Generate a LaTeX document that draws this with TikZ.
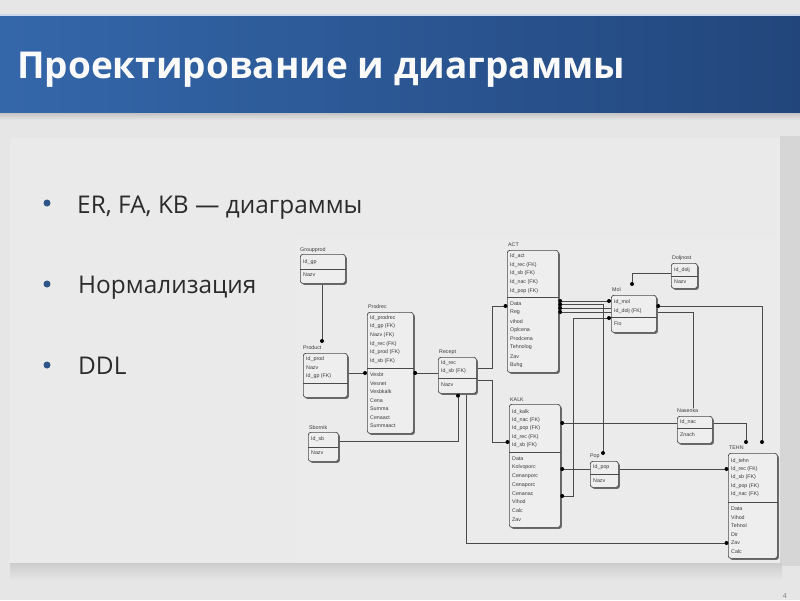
\documentclass[tikz,border=0pt]{standalone}
\usepackage{fontspec}
\setmainfont{Open Sans}
\newfontfamily\tinyfont{Liberation Sans}
\usetikzlibrary{shadows}
\definecolor{bgC}{HTML}{E6E6E6}
\definecolor{panelC}{HTML}{EAEAEA}
\definecolor{diagC}{HTML}{EBEBEB}
\definecolor{stripC}{HTML}{D6D6D6}
\definecolor{banL}{HTML}{3467AA}
\definecolor{banR}{HTML}{22467C}
\definecolor{bulTxt}{HTML}{2B2B2B}
\definecolor{bulDot}{HTML}{2F5488}
\definecolor{lineC}{HTML}{4A4A4A}
\definecolor{boxC}{HTML}{EEEEEE}
\definecolor{shadowC}{HTML}{6A6A6A}
\definecolor{txtC}{HTML}{3A3A3A}
\pgfdeclarelayer{bg}
\pgfdeclarelayer{background}
\pgfsetlayers{bg,background,main}
\newcommand\ebox[6]{%
  \node[ent, minimum width={#4-#2}, minimum height={#5-#3}] (#1) at (#2,#3) {};
  \draw[divl] (#1.west |- 0,#6) -- (#1.east |- 0,#6);}
\newcommand\erows[5]{%
  \foreach \t [count=\i from 0] in {#5}
    \node[erow] (#1-\i) at (#2,{#3+\i*#4}) {\t};}
\begin{document}
\begin{tikzpicture}[x=1pt,y=-1pt,
  ent/.style={draw=lineC, line width=0.7pt, rounded corners=2.5pt, fill=boxC,
    inner sep=0pt, anchor=north west,
    drop shadow={shadow xshift=1.5pt, shadow yshift=-1.5pt, fill=shadowC, opacity=1}},
  etitle/.style={anchor=west, inner sep=0pt, font=\tinyfont\fontsize{5.3}{6}\selectfont, text=txtC},
  erow/.style={anchor=west, inner sep=0pt, font=\tinyfont\fontsize{5.3}{6}\selectfont, text=txtC},
  divl/.style={draw=lineC, line width=0.6pt},
  conn/.style={draw=lineC, line width=0.8pt},
  jdot/.style={fill=black},
  bullet/.style={anchor=base west, inner sep=0pt, font=\fontsize{24.4}{29}\selectfont, text=bulTxt}]
\useasboundingbox (0,0) rectangle (800,600);
% page background
\begin{pgfonlayer}{bg}
\fill[bgC] (0,0) rectangle (800,600);
\fill[stripC] (780,136) rectangle (800,566);
\shade[top color=gray!50, bottom color=bgC] (0,112) rectangle (800,120);
\shade[top color=gray!40, bottom color=bgC] (10,563) rectangle (782,580);
\fill[panelC] (10,138) rectangle (780,563);
\fill[diagC] (296,238) rectangle (780,563);
\shade[left color=banL, right color=banR] (0,14) rectangle (800,112);
\fill[white!75!banL] (0,14) rectangle (800,15.5);
\end{pgfonlayer}
% title
\node[anchor=base west, inner sep=0pt, font=\bfseries\fontsize{37}{44}\selectfont, text=white!96!gray] (title) at (17,78) {Проектирование и диаграммы};
% bullets
\fill[bulDot] (47,203) circle (3.5);
\fill[bulDot] (47,284) circle (3.5);
\fill[bulDot] (47,365) circle (3.5);
\node[bullet] (b1) at (77,213) {ER, FA, KB — диаграммы};
\node[bullet] (b2) at (78,293) {Нормализация};
\node[bullet] (b3) at (78,374) {DDL};
\node[anchor=south east, inner sep=0pt, font=\fontsize{7}{8}\selectfont, text=gray] (pgnum) at (787,598.5) {4};
% entities
\ebox{grp}{300}{254}{345}{283}{269}
\node[etitle] (grp-t) at (300,250) {Groupprod};
\erows{grpk}{303}{262.5}{8.5}{Id\_gp}
\erows{grpa}{303}{275}{8.5}{Nazv}

\ebox{prd}{303}{353}{347}{397}{383}
\node[etitle] (prd-t) at (303,348) {Product};
\erows{prdk}{306}{359}{8.6}{Id\_prod,Nazv,Id\_gp (FK)}

\ebox{prc}{367}{312}{413}{433}{368}
\node[etitle] (prc-t) at (368,307) {Prodrec};
\erows{prck}{370}{318}{8.6}{Id\_prodrec,Id\_gp (FK),Nazv (FK),Id\_rec (FK),Id\_prod (FK),Id\_sb (FK)}
\erows{prca}{370}{375}{8.5}{Vesbr,Vesnet,Vesbkalk,Cena,Summa,Cenaact,Summaact}

\ebox{rec}{438}{357}{476}{393}{378}
\node[etitle] (rec-t) at (439,352) {Recept};
\erows{reck}{441}{363}{8.6}{Id\_rec,Id\_sb (FK)}
\erows{reca}{441}{385}{8.5}{Nazv}

\ebox{sbn}{308}{432}{338}{461}{447}
\node[etitle] (sbn-t) at (309,428) {Sbornik};
\erows{sbnk}{311}{439.5}{8.5}{Id\_sb}
\erows{sbna}{311}{453}{8.5}{Nazv}

\ebox{act}{507}{250}{558}{372}{297}
\node[etitle] (act-t) at (508,245) {ACT};
\erows{actk}{510}{256}{8.8}{Id\_act,Id\_rec (FK),Id\_sb (FK),Id\_nac (FK),Id\_pop (FK)}
\erows{acta}{510}{303.5}{8.8}{Data,Reg,vihod,Oplcena,Prodcena,Tehnolog,Zav,Buhg}

\ebox{kal}{509}{404}{560}{527}{452}
\node[etitle] (kal-t) at (510,400) {KALK};
\erows{kalk}{512}{412}{8.3}{Id\_kalk,Id\_nac (FK),Id\_pop (FK),Id\_rec (FK),Id\_sb (FK)}
\erows{kala}{512}{459}{8.6}{Data,Kolvoporc,Cenanporc,Cenaporc,Cenanac,Vihod,Calc,Zav}

\ebox{mol}{611}{295}{656}{332}{317}
\node[etitle] (mol-t) at (612,290) {Mol};
\erows{molk}{614}{302}{8.8}{Id\_mol,Id\_dolj (FK)}
\erows{mola}{614}{324}{8.5}{Fio}

\ebox{dol}{671}{263}{697}{288}{276}
\node[etitle] (dol-t) at (672,258) {Doljnost};
\erows{dolk}{674}{270}{8.5}{Id\_dolj}
\erows{dola}{674}{282}{8.5}{Nazv}

\ebox{pop}{590}{461}{618}{487}{474}
\node[etitle] (pop-t) at (590,456) {Pop};
\erows{popk}{593}{467.5}{8.5}{Id\_pop}
\erows{popa}{593}{481}{8.5}{Nazv}

\ebox{nas}{677}{416}{712}{443}{428}
\node[etitle] (nas-t) at (677,411) {Nasenka};
\erows{nask}{680}{422}{8.5}{Id\_nac}
\erows{nasa}{680}{435}{8.5}{Znach}

\ebox{teh}{728}{453}{777}{558}{502}
\node[etitle] (teh-t) at (729,448) {TEHN};
\erows{tehk}{731}{461}{8.3}{Id\_tehn,Id\_rec (FK),Id\_sb (FK),Id\_pop (FK),Id\_nac (FK)}
\erows{teha}{731}{508.5}{8.6}{Data,Vihod,Tehnol,Dir,Zav,Calc}

% free connector ends
\coordinate (prdTop) at (322,341);
\coordinate (popTop) at (603,453);
\coordinate (nasTop) at (693,408);
\coordinate (tehTopA) at (746,442);
\coordinate (tehTopB) at (762,442);
\coordinate (molTop) at (632,284);

% connectors
\begin{pgfonlayer}{background}
\draw[conn] (grp.south -| prdTop) -- (prdTop);
\draw[conn] (prd.east |- 0,373) -- (prc.west |- 0,373);
\draw[conn] (prc.east |- 0,373) -- (rec.west |- 0,373);
\draw[conn] (rec.east |- 0,368) -- (492,368) -- (492,306) -- (act.west |- 0,306);
\draw[conn] (rec.east |- 0,380) -- (492,380) -- (492,442) -- (kal.west |- 0,442);
\draw[conn] (sbn.east |- 0,441) -- (458,441) -- (rec.south -| 458,0);
\draw[conn] (rec.south -| 466,0) -- (466,543) -- (teh.west |- 0,543);
\draw[conn] (act.east |- 0,301) -- (mol.west |- 0,301);
\draw[conn] (act.east |- 0,304.5) -- (popTop |- 0,304.5) -- (popTop);
\draw[conn] (act.east |- 0,308) -- (mol.west |- 0,308);
\draw[conn] (act.east |- 0,312) -- (nasTop |- 0,312) -- (nasTop);
\draw[conn] (mol.east |- 0,306) -- (tehTopB |- 0,306) -- (tehTopB);
\draw[conn] (dol.west |- 0,273) -- (molTop |- 0,273) -- (molTop);
\draw[conn] (kal.east |- 0,423) -- (nas.west |- 0,423);
\draw[conn] (nas.east |- 0,423) -- (tehTopA |- 0,423) -- (tehTopA);
\draw[conn] (kal.east |- 0,469) -- (pop.west |- 0,469);
\draw[conn] (pop.east |- 0,469) -- (teh.west |- 0,469);
\draw[conn] (kal.east |- 0,496) -- (573,496) -- (573,318) -- (mol.west |- 0,318);
\end{pgfonlayer}
% junction dots
\foreach \p in {(prdTop),(popTop.center),(molTop),(tehTopA),(tehTopB)}
  \fill[jdot] \p circle (2);
\fill[jdot] ([xshift=-2pt]prc.west |- 0,373) circle (2);
\fill[jdot] ([xshift=1.5pt]prc.east |- 0,373) circle (2);
\fill[jdot] ([xshift=-1.5pt]act.west |- 0,306) circle (2);
\fill[jdot] ([xshift=-1.5pt]kal.west |- 0,442) circle (2);
\fill[jdot] ([yshift=-2pt]rec.south -| 458,0) circle (2);
\fill[jdot] ([xshift=-1.5pt]teh.west |- 0,543) circle (2);
\fill[jdot] ([xshift=-1.5pt]teh.west |- 0,469) circle (2);
\foreach \yy in {301,304.5,308,312}
  \fill[jdot] ([xshift=1.5pt]act.east |- 0,\yy) circle (2);
\fill[jdot] ([xshift=-2pt]mol.west |- 0,301) circle (2);
\fill[jdot] ([xshift=-2pt]mol.west |- 0,318) circle (2);
\fill[jdot] ([xshift=1.5pt]mol.east |- 0,306) circle (2);
\foreach \yy in {423,469,496}
  \fill[jdot] ([xshift=1.5pt]kal.east |- 0,\yy) circle (2);
\end{tikzpicture}
\end{document}
